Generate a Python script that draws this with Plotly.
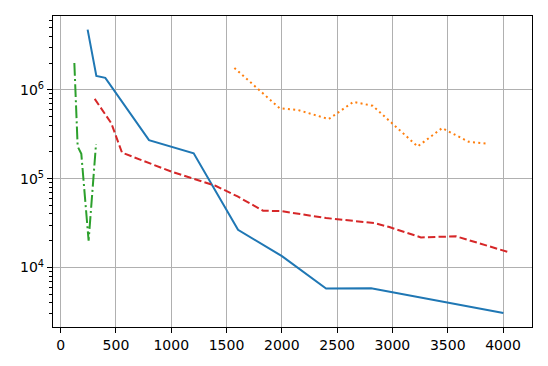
import plotly.graph_objects as go

# blue solid
blue_x = [244, 323, 404, 799, 1203, 1604, 2001, 2400, 2807, 4003]
blue_y = [4.75e6, 1.43e6, 1.36e6, 2.71e5, 1.93e5, 2.65e4, 1.34e4, 5.8e3, 5.85e3, 3.08e3]

# orange dotted
orange_x = [1571, 1980, 2150, 2424, 2647, 2822, 3228, 3449, 3689, 3870]
orange_y = [1.76e6, 6.2e5, 5.9e5, 4.68e5, 7.3e5, 6.6e5, 2.3e5, 3.7e5, 2.6e5, 2.46e5]

# green dash-dot
green_x = [124, 154, 187, 253, 320]
green_y = [2.0e6, 2.3e5, 1.9e5, 2.0e4, 2.45e5]

# red dashed
red_x = [308, 458, 555, 1000, 1400, 1600, 1830, 2000, 2400, 2836, 2972, 3258, 3575, 4057]
red_y = [7.9e5, 4.2e5, 1.96e5, 1.2e5, 8.3e4, 6.3e4, 4.35e4, 4.3e4, 3.6e4, 3.16e4, 2.85e4, 2.18e4, 2.24e4, 1.48e4]

x_ticks = [0, 500, 1000, 1500, 2000, 2500, 3000, 3500, 4000]
y_ticks = [1e4, 1e5, 1e6]
y_ticktext = ["10<sup>4</sup>", "10<sup>5</sup>", "10<sup>6</sup>"]
y_minor = [m * 10 ** e for e in (3, 4, 5, 6) for m in range(2, 10)]

fig = go.Figure()
fig.add_trace(go.Scatter(x=blue_x, y=blue_y, mode="lines",
                         line=dict(color="#1f77b4", width=2)))
fig.add_trace(go.Scatter(x=orange_x, y=orange_y, mode="lines",
                         line=dict(color="#ff7f0e", width=2, dash="2px,3.3px")))
fig.add_trace(go.Scatter(x=green_x, y=green_y, mode="lines",
                         line=dict(color="#2ca02c", width=2,
                                   dash="12.8px,3.2px,2px,3.2px")))
fig.add_trace(go.Scatter(x=red_x, y=red_y, mode="lines",
                         line=dict(color="#d62728", width=2, dash="7.4px,3.2px")))

axis_common = dict(
    showline=True, linecolor="black", linewidth=1.2, mirror=True,
    ticks="outside", ticklen=5, tickwidth=1, tickcolor="black",
    showgrid=True, gridcolor="#b0b0b0", gridwidth=1, zeroline=False,
)

fig.update_xaxes(range=[-69, 4262], tickvals=x_ticks, **axis_common)
fig.update_yaxes(type="log", range=[3.33, 6.83], tickvals=y_ticks,
                 ticktext=y_ticktext,
                 minor=dict(tickvals=y_minor, ticks="outside", ticklen=2.5,
                            tickcolor="black", showgrid=False),
                 **axis_common)

# page body has an 8px margin, so the figure is a bit smaller than the window
fig.update_layout(
    width=540, height=358,
    margin=dict(l=45, r=16, t=8, b=39),
    plot_bgcolor="white", paper_bgcolor="white",
    showlegend=False,
    font=dict(family="DejaVu Sans", size=14, color="black"),
)

fig.write_html("out.html")
